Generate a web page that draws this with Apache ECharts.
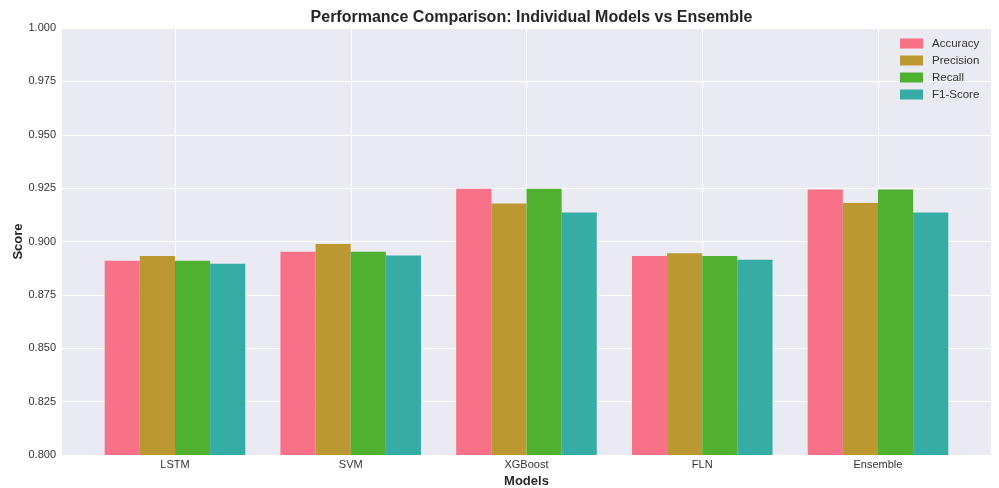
<!DOCTYPE html>
<html>
<head>
<meta charset="utf-8">
<script src="https://cdn.jsdelivr.net/npm/echarts@6/dist/echarts.min.js"></script>
<style>html,body{margin:0;padding:0;background:#fff;}#c{width:999px;height:488px;}</style>
</head>
<body>
<div id="c"></div>
<script>
const models = ['LSTM', 'SVM', 'XGBoost', 'FLN', 'Ensemble'];
const accuracy = [0.891, 0.8952, 0.9247, 0.8932, 0.9243];
const precision = [0.8932, 0.8988, 0.9178, 0.8945, 0.918];
const recall = [0.891, 0.8952, 0.9247, 0.8932, 0.9243];
const f1score = [0.8896, 0.8934, 0.9136, 0.8915, 0.9136];
const seriesNames = ['Accuracy', 'Precision', 'Recall', 'F1-Score'];
const colors = ['#F77189', '#BB9832', '#50B131', '#36ADA4'];
const yTicks = { min: 0.8, max: 1.0, step: 0.025 };

const FONT = '"Liberation Sans", Arial, sans-serif';
const chart = echarts.init(document.getElementById('c'), null, { renderer: 'canvas' });
const values = [accuracy, precision, recall, f1score];
const hiddenY = (gi) => ({ type: 'value', gridIndex: gi, min: yTicks.min, max: yTicks.max, show: false });

chart.setOption({
  animation: false,
  backgroundColor: '#ffffff',
  textStyle: { fontFamily: FONT },
  title: {
    text: 'Performance Comparison: Individual Models vs Ensemble',
    left: 526.5, textAlign: 'center', top: 5,
    textStyle: { fontSize: 16, fontWeight: 'bold', color: '#262626', fontFamily: FONT }
  },
  legend: {
    orient: 'vertical', left: 900, top: 37, padding: 0,
    itemWidth: 23, itemHeight: 10, itemGap: 4,
    icon: 'rect',
    textStyle: { fontSize: 11.5, color: '#333', lineHeight: 13, padding: [0, 0, 0, 4], fontFamily: FONT },
    data: seriesNames
  },
  grid: [
    { left: 62, top: 28, width: 929, height: 427, show: true, backgroundColor: '#EAEAF2', borderWidth: 0, containLabel: false, outerBoundsMode: 'none' },
    { left: 175, top: 28, width: 703, height: 427, containLabel: false, outerBoundsMode: 'none' },
    { left: 87.1, top: 28, width: 878.75, height: 427, containLabel: false, outerBoundsMode: 'none' }
  ],
  xAxis: [
    { type: 'value', gridIndex: 0, min: 0, max: 1, show: false },
    { type: 'value', gridIndex: 1, min: 0, max: 4, interval: 1,
      axisLine: { show: false }, axisTick: { show: false }, axisLabel: { show: false },
      splitLine: { show: true, lineStyle: { color: '#ffffff', width: 1 } } },
    { type: 'category', gridIndex: 2, data: models,
      axisLine: { show: false }, axisTick: { show: false },
      axisLabel: { fontSize: 11, color: '#333', margin: 4, fontFamily: FONT },
      splitLine: { show: false },
      name: 'Models', nameLocation: 'middle', nameGap: 20,
      nameTextStyle: { fontSize: 13, fontWeight: 'bold', color: '#262626', fontFamily: FONT } }
  ],
  yAxis: [
    { type: 'value', gridIndex: 0, min: yTicks.min, max: yTicks.max, interval: yTicks.step,
      axisLine: { show: false }, axisTick: { show: false },
      axisLabel: { fontSize: 11, color: '#333', margin: 6, formatter: v => v.toFixed(3), fontFamily: FONT },
      splitLine: { show: true, lineStyle: { color: '#ffffff', width: 1 } },
      name: 'Score', nameLocation: 'middle', nameGap: 37, nameRotate: 90, nameMoveOverlap: false,
      nameTextStyle: { fontSize: 13, fontWeight: 'bold', color: '#262626', fontFamily: FONT } },
    hiddenY(1),
    hiddenY(2)
  ],
  series: seriesNames.map((n, i) => ({
    name: n, type: 'bar', xAxisIndex: 2, yAxisIndex: 2,
    data: values[i],
    barGap: '0%', barCategoryGap: '20%',
    itemStyle: { color: colors[i] },
    z: 3
  }))
});
</script>
</body>
</html>
